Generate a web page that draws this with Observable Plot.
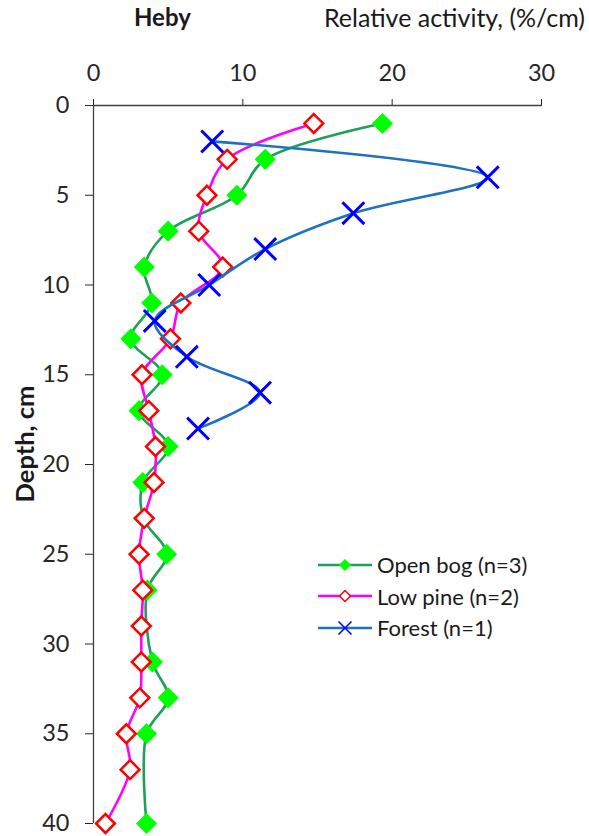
<!DOCTYPE html>
<html>
<head>
<meta charset="utf-8">
<script src="https://cdn.jsdelivr.net/npm/d3@7"></script>
<script src="https://cdn.jsdelivr.net/npm/@observablehq/plot@0.6"></script>
<style>
  body { margin: 0; background: #fff; }
  #wrap { position: relative; width: 589px; height: 836px; overflow: hidden; }
  #wrap svg { display: block; }
  #overlay { position: absolute; left: 0; top: 0; pointer-events: none; }
  #legend { position: absolute; left: 316px; top: 549px; font-family: Lato, sans-serif; font-size: 22px; color: #1a1a1a; }
  #legend .row { display: flex; align-items: center; height: 31.5px; }
  #legend svg { margin-right: 5px; }
</style>
</head>
<body>
<div id="wrap"></div>
<script>
// ---- data ----
const seriesNames = ["Open bog (n=3)", "Low pine (n=2)", "Forest (n=1)"];

const depthOpenBog = [1, 3, 5, 7, 9, 11, 13, 15, 17, 19, 21, 23, 25, 27, 31, 33, 35, 40];
const openBog      = [19.35, 11.5, 9.6, 5.0, 3.4, 3.9, 2.5, 4.6, 3.05, 5.0, 3.3, 3.35, 4.9, 3.6, 3.95, 5.0, 3.55, 3.55];

const depthLowPine = [1, 3, 5, 7, 9, 11, 13, 15, 17, 19, 21, 23, 25, 27, 29, 31, 33, 35, 37, 40];
const lowPine      = [14.75, 8.95, 7.6, 7.05, 8.65, 5.85, 5.15, 3.25, 3.7, 4.15, 4.05, 3.4, 3.05, 3.3, 3.2, 3.2, 3.1, 2.2, 2.45, 0.8];

const depthForest  = [2, 4, 6, 8, 10, 12, 14, 16, 18];
const forest       = [7.95, 26.4, 17.4, 11.5, 7.75, 4.1, 6.25, 11.15, 7.0];

const xTicks = [0, 10, 20, 30];
const yTicks = [0, 5, 10, 15, 20, 25, 30, 35, 40];

const titleText = "Heby";
const xTitle = "Relative activity, (%/cm)";
const yTitle = "Depth, cm";

// ---- build tables ----
const toRows = (depths, vals) => depths.map((d, i) => ({ d, v: vals[i] }));
const bogRows = toRows(depthOpenBog, openBog);
const pineRows = toRows(depthLowPine, lowPine);
const forestRows = toRows(depthForest, forest);

const styles = [
  { line: "#1fa05a", symbol: "diamond2", fill: "#00ff00", stroke: "none", sw: 0, r: 9.5, lr: 5.5 },
  { line: "#ff00ff", symbol: "diamond2", fill: "#ffffff", stroke: "#ff0000", sw: 2.5, r: 8.5, lr: 5 },
  { line: "#1f72c0", symbol: "times", fill: "none", stroke: "#0000ff", sw: 3, r: 10, lr: 6 }
];
const rowsets = [bogRows, pineRows, forestRows];

const marks = [
  Plot.ruleY([0], { stroke: "#404040", strokeWidth: 1.3 }),
  Plot.ruleX([0], { stroke: "#404040", strokeWidth: 1.3 })
];
rowsets.forEach((rows, i) => {
  const s = styles[i];
  marks.push(Plot.line(rows, { x: "v", y: "d", stroke: s.line, strokeWidth: 2.6, curve: "catmull-rom" }));
  marks.push(Plot.dot(rows, { x: "v", y: "d", symbol: s.symbol, r: s.r, fill: s.fill, stroke: s.stroke, strokeWidth: s.sw }));
});

const chart = Plot.plot({
  width: 589,
  height: 836,
  marginLeft: 93,
  marginRight: 48,
  marginTop: 105,
  marginBottom: 13,
  style: { fontFamily: "Lato, sans-serif", fontSize: "23.5px", color: "#262626", background: "transparent", overflow: "visible" },
  x: { domain: [0, 30], ticks: xTicks, axis: "top", tickSize: 7, tickPadding: 18, label: null },
  y: { domain: [0, 40], reverse: true, ticks: yTicks, tickSize: 8, tickPadding: 16, label: null },
  marks
});
const wrap = document.getElementById("wrap");
wrap.appendChild(chart);

// ---- titles overlay (real text) ----
const ov = d3.select(wrap).append("svg").attr("id", "overlay").attr("width", 589).attr("height", 836)
  .style("font-family", "Lato, sans-serif").style("fill", "#1a1a1a");
ov.append("text").attr("x", 134).attr("y", 26).attr("font-weight", "bold").attr("font-size", 24).text(titleText);
ov.append("text").attr("x", 585).attr("y", 27).attr("text-anchor", "end").attr("font-size", 25).text(xTitle);
ov.append("text").attr("transform", "translate(34,444) rotate(-90)").attr("text-anchor", "middle")
  .attr("font-weight", "bold").attr("font-size", 25.5).text(yTitle);

// ---- legend ----
const legend = d3.select(wrap).append("div").attr("id", "legend");
seriesNames.forEach((name, i) => {
  const s = styles[i];
  const row = legend.append("div").attr("class", "row");
  const svg = row.append("svg").attr("width", 56).attr("height", 20);
  svg.append("line").attr("x1", 2).attr("x2", 56).attr("y1", 10).attr("y2", 10).attr("stroke", s.line).attr("stroke-width", 2.6);
  const sym = s.symbol === "times" ? d3.symbolTimes : d3.symbolDiamond2;
  svg.append("path").attr("transform", "translate(29,10)")
    .attr("d", d3.symbol(sym, Math.PI * s.lr * s.lr)())
    .attr("fill", s.fill).attr("stroke", s.stroke).attr("stroke-width", s.sw ? 1.5 : 0);
  row.append("span").text(name);
});
</script>
</body>
</html>
